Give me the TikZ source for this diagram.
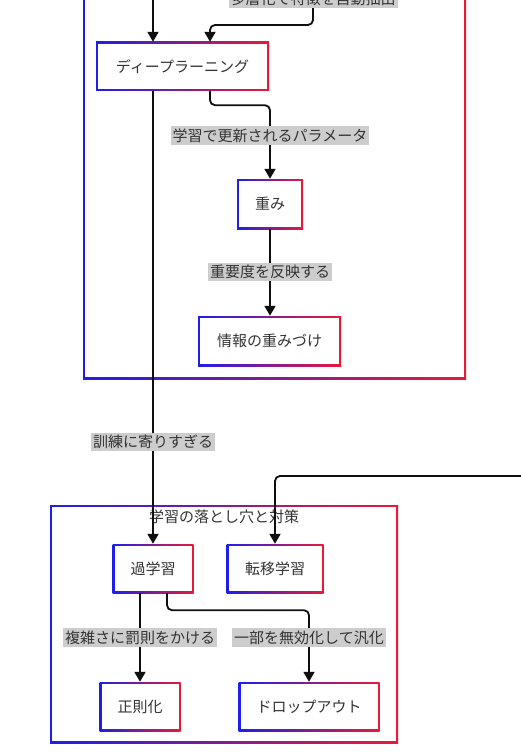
\documentclass[tikz,border=0pt]{standalone}
\usepackage{fontspec}
\setmainfont{Noto Sans CJK JP}
\usetikzlibrary{arrows.meta}
\definecolor{gblue}{RGB}{30,30,235}
\definecolor{gred}{RGB}{235,25,55}
\definecolor{txt}{RGB}{51,51,51}
\definecolor{lblbg}{RGB}{205,205,205}
\definecolor{edgec}{RGB}{15,15,15}
\tikzset{
  gframe/.style={draw=none, left color=gblue, right color=gred, inner sep=0pt,
    path picture={\fill[white] ([xshift=2pt,yshift=-2pt]path picture bounding box.north west) rectangle ([xshift=-2pt,yshift=2pt]path picture bounding box.south east);}},
  jfont/.style={font=\fontsize{15pt}{18pt}\selectfont, text=txt},
  box/.style={gframe, jfont},
  lbl/.style={fill=lblbg, jfont, inner xsep=2pt, inner ysep=2.5pt},
  ctitle/.style={jfont, inner sep=1pt},
  arr/.style={draw=edgec, line width=1.8pt, rounded corners=5pt, -{Triangle[width=11pt,length=10pt]}}
}
\begin{document}
\begin{tikzpicture}[x=1pt,y=-1pt]
\useasboundingbox (0,0) rectangle (521,754);
\clip (0,0) rectangle (521,754);
\fill[white] (0,0) rectangle (521,754);
% clusters
\node[gframe, minimum width=383pt, minimum height=479pt] (topc) at (274.5,139.5) {};
\node[gframe, minimum width=348pt, minimum height=238pt] (botc) at (224,624) {};
\node[ctitle] (bott) at (224,517) {学習の落とし穴と対策};
% nodes
\node[box, minimum width=173pt, minimum height=49pt] (dl) at (182.5,66.5) {ディープラーニング};
\node[box, minimum width=66pt, minimum height=50pt] (wt) at (270,204) {重み};
\node[box, minimum width=143pt, minimum height=50pt] (info) at (269.5,341) {情報の重みづけ};
\node[box, minimum width=81pt, minimum height=49pt] (over) at (153,568.5) {過学習};
\node[box, minimum width=97pt, minimum height=49pt] (trans) at (275,568.5) {転移学習};
\node[box, minimum width=81pt, minimum height=49pt] (reg) at (140,706.5) {正則化};
\node[box, minimum width=141pt, minimum height=49pt] (drop) at (309,706.5) {ドロップアウト};
% free ends
\coordinate (topA) at (153,-40);
\coordinate (topB) at (313,-40);
\coordinate (rightC) at (540,476);
% edges
\draw[arr] (topA) -- (topA |- dl.north);
\draw[arr] (topB) -- ++(0,65) -| ([xshift=27.5pt]dl.north);
\draw[arr] (dl.south -| over.north) -- (over.north);
\draw[arr] ([xshift=27.5pt]dl.south) -- ++(0,14) -| (wt.north);
\draw[arr] (wt.south) -- (wt.south |- info.north);
\draw[arr] (rightC) -| (trans.north);
\draw[arr] (over.south -| reg.north) -- (reg.north);
\draw[arr] ([xshift=14pt]over.south) -- ++(0,17) -| (drop.north);
% labels
\node[lbl] (l0) at (313,-1) {多層化で特徴を自動抽出};
\node[lbl] (l1) at (270,135.5) {学習で更新されるパラメータ};
\node[lbl] (l2) at (270,272) {重要度を反映する};
\node[lbl] (l3) at (153,442) {訓練に寄りすぎる};
\node[lbl] (l4) at (140,637.5) {複雑さに罰則をかける};
\node[lbl] (l5) at (309,637.5) {一部を無効化して汎化};
\end{tikzpicture}
\end{document}
